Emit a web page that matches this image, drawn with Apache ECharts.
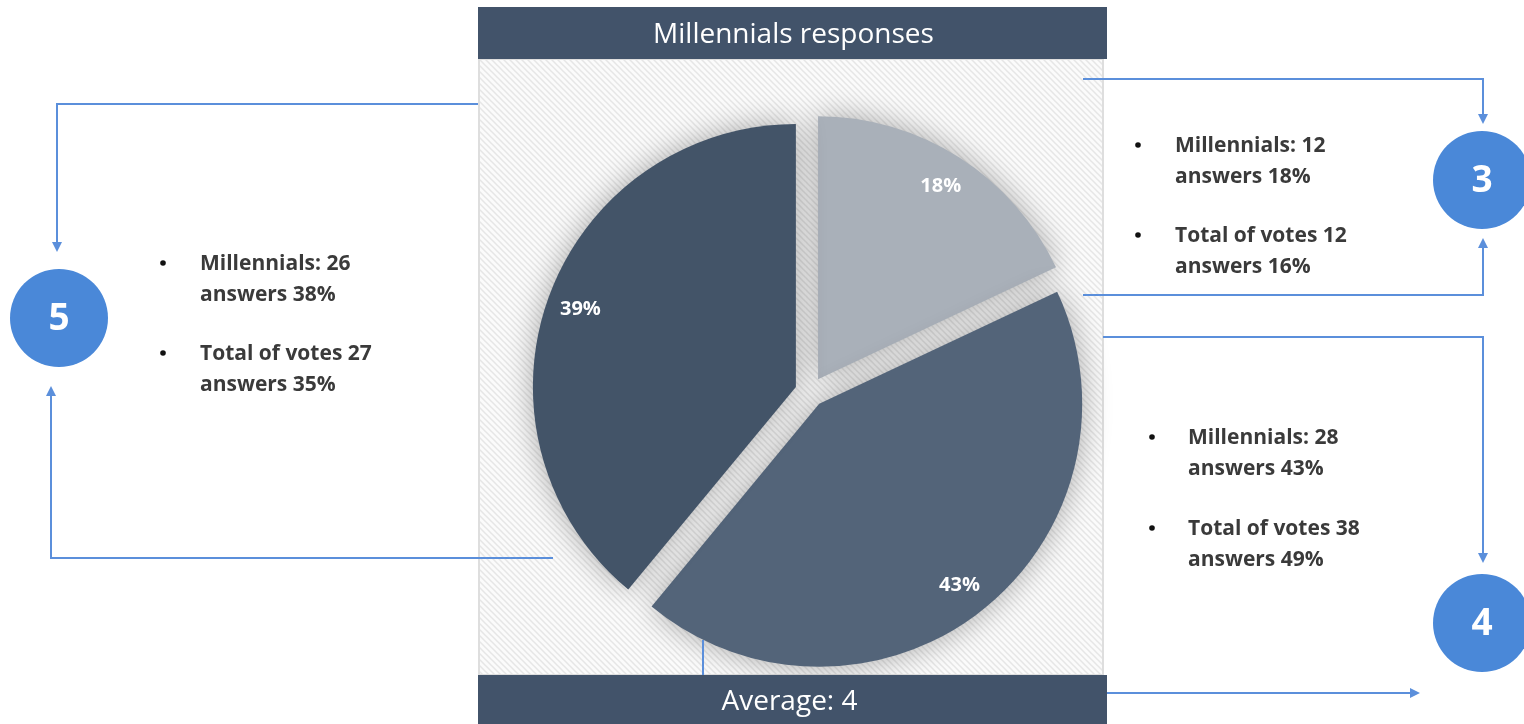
<!DOCTYPE html>
<html>
<head>
<meta charset="utf-8">
<title>Millennials responses</title>
<script src="https://cdn.jsdelivr.net/npm/echarts@6/dist/echarts.min.js"></script>
<style>
  html, body { margin: 0; padding: 0; background: #ffffff; }
  #chart { width: 1524px; height: 724px; }
</style>
</head>
<body>
<div id="chart"></div>
<script>
// Slices, clockwise from 12 o'clock
const sliceScores = ['3', '4', '5'];
const sliceValues = [18, 43, 39];

// Side notes per score
const millennialsAnswers = [12, 28, 26];
const millennialsPct = [18, 43, 38];
const totalVotes = [12, 38, 27];
const totalPct = [16, 49, 35];

const titleText = 'Millennials responses';
const averageScore = 4;

// ---- styling ----
const sliceColors = ['#a9b0b9', '#536479', '#435468'];
const barColor = '#42536a';
const accent = '#4a88d8';
const lineColor = '#5b8fdb';
const noteColor = '#3a3a3a';
const FONT = '"Open Sans", Lato, sans-serif';

const chart = echarts.init(document.getElementById('chart'), null, { renderer: 'canvas' });

// diagonal hatch used behind the pie
function hatchPattern() {
  const c = document.createElement('canvas');
  const s = 6;
  c.width = s; c.height = s;
  const g = c.getContext('2d');
  g.fillStyle = '#fbfbfb';
  g.fillRect(0, 0, s, s);
  g.strokeStyle = '#e6e6e6';
  g.lineWidth = 1.5;
  g.beginPath();
  g.moveTo(-1, -1); g.lineTo(s + 1, s + 1);
  g.moveTo(-1, s - 1); g.lineTo(1, s + 1);
  g.moveTo(s - 1, -1); g.lineTo(s + 1, 1);
  g.stroke();
  return c;
}

const PANEL = { x: 478, y: 7, w: 629, titleH: 52, bottomY: 675 };
const PIE = { cx: 810, cy: 392, r: 263, offset: 15 };

const graphics = [];

// panel background
graphics.push({
  type: 'rect', z: 0,
  shape: { x: PANEL.x + 1, y: PANEL.y + PANEL.titleH, width: PANEL.w - 5, height: PANEL.bottomY - PANEL.y - PANEL.titleH },
  style: { fill: { image: hatchPattern(), repeat: 'repeat' }, stroke: '#dedede', lineWidth: 2 }
});
// title bar
graphics.push({
  type: 'rect', z: 10,
  shape: { x: PANEL.x, y: PANEL.y, width: PANEL.w, height: PANEL.titleH },
  style: { fill: barColor }
});
graphics.push({
  type: 'text', z: 11,
  style: { text: titleText, x: PANEL.x + PANEL.w / 2 + 1, y: PANEL.y + PANEL.titleH / 2 + 2, align: 'center', verticalAlign: 'middle',
           fill: '#ffffff', font: '28px ' + FONT }
});
// bottom bar
graphics.push({
  type: 'rect', z: 10,
  shape: { x: PANEL.x, y: PANEL.bottomY, width: PANEL.w, height: 60 },
  style: { fill: barColor }
});
graphics.push({
  type: 'text', z: 11,
  style: { text: 'Average: ' + averageScore, x: PANEL.x + PANEL.w / 2 - 3, y: 702, align: 'center', verticalAlign: 'middle',
           fill: '#ffffff', font: '28px ' + FONT }
});

// score circles
const circles = { '3': [1482, 180], '4': [1482, 623], '5': [59, 318] };
sliceScores.forEach(function (s) {
  const c = circles[s];
  graphics.push({ type: 'circle', z: 20, shape: { cx: c[0], cy: c[1], r: 49 }, style: { fill: accent } });
  graphics.push({ type: 'text', z: 21, style: { text: s, x: c[0], y: c[1] + 1, align: 'center', verticalAlign: 'middle',
                  fill: '#ffffff', font: 'bold 37px ' + FONT } });
});

// bullet notes
const notePos = { '3': [1138, 1175, 146, 236], '4': [1152, 1188, 438, 529], '5': [163, 200, 264, 354] };
sliceScores.forEach(function (s, i) {
  const p = notePos[s];
  const lines = [
    ['Millennials: ' + millennialsAnswers[i], 'answers ' + millennialsPct[i] + '%'],
    ['Total of votes ' + totalVotes[i], 'answers ' + totalPct[i] + '%']
  ];
  lines.forEach(function (pair, k) {
    const y = p[2 + k];
    graphics.push({ type: 'circle', z: 20, shape: { cx: p[0], cy: y - 1, r: 2.8 }, style: { fill: '#111111' } });
    pair.forEach(function (t, j) {
      graphics.push({ type: 'text', z: 20, style: { text: t, x: p[1], y: y + j * 31, align: 'left', verticalAlign: 'middle',
                      fill: noteColor, font: 'bold 21px ' + FONT } });
    });
  });
});

// connectors with arrow heads
function connector(points, arrowDir) {
  graphics.push({ type: 'polyline', z: 15, shape: { points: points },
                  style: { stroke: lineColor, lineWidth: 2, fill: null } });
  if (!arrowDir) return;
  const end = points[points.length - 1];
  const L = 10, W = 5;
  let tri;
  if (arrowDir === 'down') tri = [[end[0] - W, end[1]], [end[0] + W, end[1]], [end[0], end[1] + L]];
  if (arrowDir === 'up') tri = [[end[0] - W, end[1]], [end[0] + W, end[1]], [end[0], end[1] - L]];
  if (arrowDir === 'right') tri = [[end[0], end[1] - W], [end[0], end[1] + W], [end[0] + L, end[1]]];
  graphics.push({ type: 'polygon', z: 15, shape: { points: tri }, style: { fill: lineColor } });
}
connector([[478, 104], [57, 104], [57, 242]], 'down');
connector([[553, 558], [51, 558], [51, 396]], 'up');
connector([[1083, 79], [1483, 79], [1483, 114]], 'down');
connector([[1083, 295], [1483, 295], [1483, 248]], 'up');
connector([[1103, 337], [1483, 337], [1483, 553]], 'down');
connector([[1107, 693], [1410, 693]], 'right');
connector([[703, 640], [703, 675]], null);

const pieData = sliceScores.map(function (s, i) {
  return { name: s, value: sliceValues[i], selected: true,
           itemStyle: { color: sliceColors[i] }, select: { itemStyle: { color: sliceColors[i] } } };
});
const labelData = sliceScores.map(function (s, i) {
  return { name: s, value: sliceValues[i], selected: true };
});

chart.setOption({
  animation: false,
  graphic: { elements: graphics },
  series: [
    {
      type: 'pie', z: 5,
      center: [PIE.cx, PIE.cy], radius: [0, PIE.r],
      startAngle: 90, clockwise: true,
      selectedMode: 'multiple', selectedOffset: PIE.offset,
      label: { show: false }, labelLine: { show: false },
      emphasis: { disabled: true },
      itemStyle: { shadowBlur: 30, shadowColor: 'rgba(0,0,0,0.33)', borderWidth: 0 },
      data: pieData
    },
    {
      type: 'pie', z: 6, silent: true,
      center: [PIE.cx, PIE.cy], radius: [189, PIE.r],
      startAngle: 90, clockwise: true,
      selectedMode: 'multiple', selectedOffset: PIE.offset,
      itemStyle: { color: 'rgba(0,0,0,0)' },
      select: { itemStyle: { color: 'rgba(0,0,0,0)' } },
      emphasis: { disabled: true },
      label: { show: true, position: 'inside', formatter: '{d}%', color: '#ffffff',
               fontFamily: FONT, fontWeight: 'bold', fontSize: 20 },
      labelLine: { show: false },
      data: labelData
    }
  ]
});
</script>
</body>
</html>
